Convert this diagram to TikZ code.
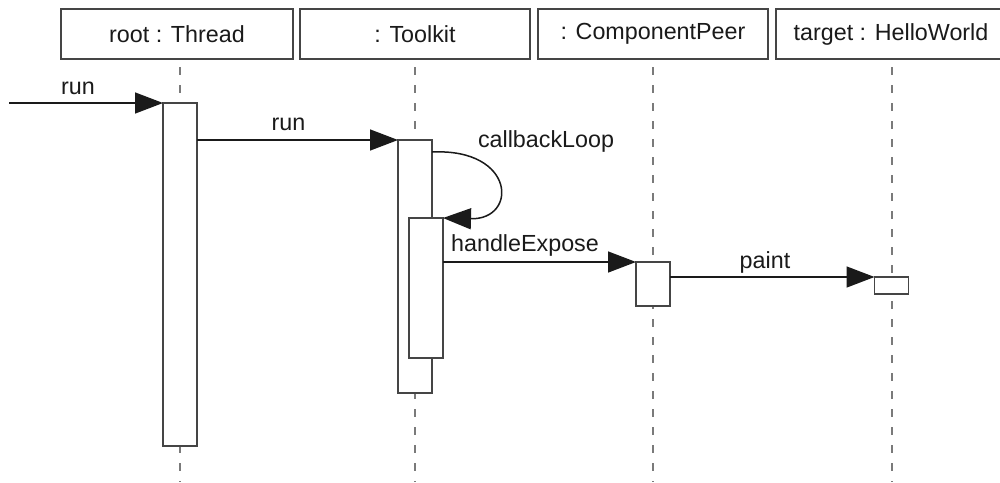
\documentclass[tikz,border=0pt]{standalone}
\usepackage{fontspec}
\setmainfont{Liberation Sans}
\usetikzlibrary{arrows.meta}
\definecolor{boxline}{HTML}{454545}
\definecolor{lifeline}{HTML}{7A7A7A}
\definecolor{ink}{HTML}{1A1A1A}
\tikzset{
  header/.style={draw=boxline, line width=1.4pt, fill=white, rectangle,
    inner sep=0pt, outer sep=0pt, text=ink,
    font=\fontsize{23.3}{27}\selectfont},
  lifelinestyle/.style={draw=lifeline, line width=2.4pt, dash pattern=on 8pt off 10pt},
  activation/.style={draw=boxline, line width=1.6pt, fill=white, rectangle,
    inner sep=0pt, outer sep=0pt},
  msg/.style={draw=ink, line width=1.5pt, -{Triangle[length=28pt, width=21pt]}},
  msglabel/.style={inner sep=0pt, text=ink, font=\fontsize{23.3}{27}\selectfont},
}
\begin{document}
\begin{tikzpicture}[x=1pt, y=-1pt]
  \useasboundingbox (0,0) rectangle (1000,482);
  \clip (0,0) rectangle (1000,482);
  \fill[white] (0,0) rectangle (1000,482);

  % object headers
  \node[header, minimum width=232pt, minimum height=50pt] (thread) at (177,34) {root : Thread};
  \node[header, minimum width=230pt, minimum height=50pt] (toolkit) at (415,34) {: Toolkit};
  \node[header, minimum width=230pt, minimum height=50pt] (peer) at (653,34) {: ComponentPeer};
  \node[header, minimum width=240pt, minimum height=50pt] (hello) at (896,34) {\hspace*{-10pt}target : HelloWorld};

  % lifelines
  \coordinate (threadend) at (180,482);
  \coordinate (toolkitend) at (415,482);
  \coordinate (peerend) at (653,482);
  \coordinate (helloend) at (892,482);
  \draw[lifelinestyle] ([yshift=-8pt]thread.south -| threadend) -- (threadend);
  \draw[lifelinestyle] ([yshift=-8pt]toolkit.south) -- (toolkitend);
  \draw[lifelinestyle] ([yshift=-8pt]peer.south) -- (peerend);
  \draw[lifelinestyle] ([yshift=-8pt]hello.south -| helloend) -- (helloend);

  % activation bars
  \node[activation, minimum width=34pt, minimum height=343pt] (threadbar) at (180,274.5) {};
  \node[activation, minimum width=34pt, minimum height=253pt] (tkbar) at (415,266.5) {};
  \node[activation, minimum width=34pt, minimum height=140pt] (tkinner) at (426,288) {};
  \node[activation, minimum width=34pt, minimum height=44pt] (peerbar) at (653,284) {};
  \node[activation, minimum width=34pt, minimum height=17pt] (hellobar) at (891.5,285.5) {};

  % messages
  \coordinate (caller) at (9,103);
  \draw[msg] (caller) -- (threadbar.north west);
  \node[msglabel] (lrun1) at (78,88.5) {run};

  \draw[msg] (threadbar.east |- tkbar.north) -- (tkbar.north west);
  \node[msglabel] (lrun2) at (288.5,124.5) {run};

  \coordinate (loopstart) at (432,152);
  \draw[msg] (loopstart) .. controls (516,148) and (518,220) .. (tkinner.north east);
  \node[msglabel] (lloop) at (546,141) {callbackLoop};

  \draw[msg] (tkinner.east |- peerbar.north) -- (peerbar.north west);
  \node[msglabel] (lexpose) at (525,245) {handleExpose};

  \draw[msg] (peerbar.east |- hellobar.north) -- (hellobar.north west);
  \node[msglabel] (lpaint) at (765,262) {paint};
\end{tikzpicture}
\end{document}
